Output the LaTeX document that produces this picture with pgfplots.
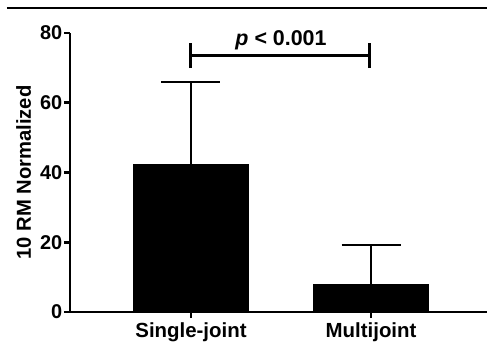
\documentclass[border=0pt]{standalone}
\usepackage{pgfplots}
\pgfplotsset{compat=1.18}
\usepackage{fontspec}
\setmainfont{Liberation Sans}
\begin{document}
\begin{tikzpicture}
\useasboundingbox (-70bp,-39bp) rectangle (417bp,312bp);
\draw[line width=2.8bp] (-63bp,304bp) -- (417bp,304bp);
\begin{axis}[
  at={(0,0)}, anchor=south west,
  scale only axis,
  width=417bp, height=279bp,
  xmin=-0.672, xmax=1.644,
  ymin=0, ymax=80,
  axis lines*=left,
  axis line style={line width=2.8bp,-},
  ytick={0,20,40,60,80},
  yticklabels={0,20,40,60,80},
  xtick={0,1},
  xticklabels={Single-joint,Multijoint},
  tick align=outside,
  major tick length=6bp,
  tick style={line width=2.6bp,black},
  yticklabel style={font=\fontsize{20}{20}\selectfont\bfseries, inner sep=1.5bp},
  xticklabel style={font=\fontsize{20.5}{20.5}\selectfont\bfseries, yshift=-1bp},
  ylabel={10 RM Normalized},
  ylabel style={font=\fontsize{20.3}{20.3}\selectfont\bfseries, yshift=4bp},
  clip=false,
]
\addplot[ybar, bar width=115bp, fill=black, draw=black, line width=0.5bp,
  error bars/.cd, y dir=plus, y explicit,
  error bar style={line width=2.2bp,black},
  error mark options={rotate=90,mark size=29.5bp,line width=2.4bp,black}]
  coordinates {(0,42.4) +- (0,23.5) (1,8.0) +- (0,11.2)};
\draw[line width=3bp] (axis cs:0,69.9) -- (axis cs:0,77.1);
\draw[line width=3bp] (axis cs:0.99,69.9) -- (axis cs:0.99,77.1);
\draw[line width=3bp] (axis cs:0,73.6) -- (axis cs:0.99,73.6);
\node[anchor=base, inner sep=0pt, font=\fontsize{21.5}{21.5}\selectfont\bfseries] at (axis cs:0.5,76.4) {\textit{p} < 0.001};
\end{axis}
\end{tikzpicture}
\end{document}
